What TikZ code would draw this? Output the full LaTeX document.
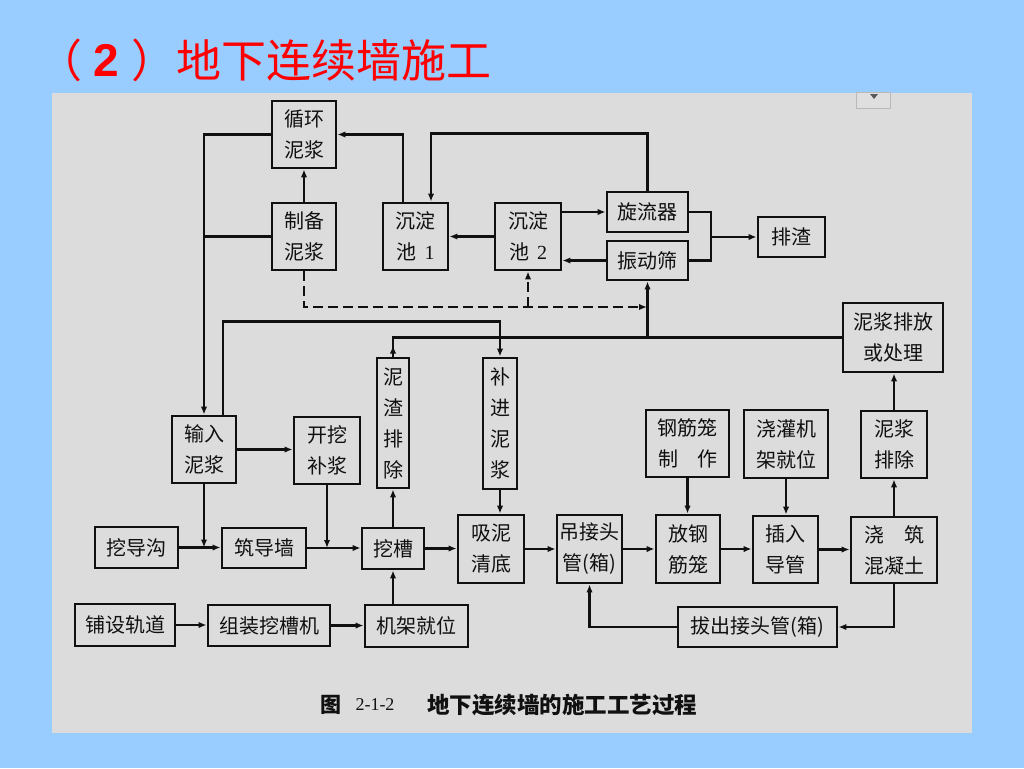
\documentclass[tikz,border=0pt]{standalone}
\usepackage{fontspec}
\newfontfamily\cjk{Noto Sans CJK SC}
\newfontfamily\lsans{Liberation Sans}
\newfontfamily\lserif{Liberation Serif}
\usetikzlibrary{arrows.meta}
\definecolor{bgblue}{HTML}{99CCFF}
\definecolor{scangray}{HTML}{DCDCDC}
\definecolor{titlered}{HTML}{FF0000}
\definecolor{ink}{HTML}{101010}
\tikzset{
  box/.style={draw=ink, line width=2.9pt, inner sep=0pt, align=center, text=ink,
    font=\fontsize{20}{31}\selectfont\cjk},
  conn/.style={draw=ink, line width=2.4pt},
  arr/.style={conn, -{Latex[length=8pt,width=6.5pt]}},
  dashline/.style={conn, dash pattern=on 10pt off 5pt},
  ttl/.style={text=titlered, inner sep=0pt, font=\fontsize{45}{45}\selectfont\cjk},
}
\begin{document}
\begin{tikzpicture}[x=1pt,y=-1pt]
\useasboundingbox (0,0) rectangle (1024,768);
\fill[bgblue] (0,0) rectangle (1024,768);
\fill[scangray] (52,93) rectangle (972,733);
% small widget
\fill[gray!25] (856,92) rectangle (890,108);
\draw[gray!55, line width=0.8pt] (856,92) rectangle (890,108);
\fill[gray!70!black] (870,94) -- (878,94) -- (874,99) -- cycle;

% title
\node[ttl] (lp) at (60,60) {（};
\node[text=titlered, inner sep=0pt, font=\fontsize{46}{46}\selectfont\lsans\bfseries] (two) at (106,60) {2};
\node[ttl] (rp) at (154,60) {）};
\node[ttl, anchor=west] (title) at (176,60) {地下连续墙施工};

% boxes
\node[box, minimum width=64pt, minimum height=67pt] (xh) at (304,134.5) {循环\\泥浆};
\node[box, minimum width=64pt, minimum height=67pt] (zb) at (304,236.5) {制备\\泥浆};
\node[box, minimum width=65pt, minimum height=67pt] (cd1) at (415.5,236.5) {沉淀\\池\hspace{8pt}{\lserif 1}};
\node[box, minimum width=66pt, minimum height=67pt] (cd2) at (528,236.5) {沉淀\\池\hspace{8pt}{\lserif 2}};
\node[box, minimum width=81pt, minimum height=40pt] (xl) at (647.5,212) {旋流器};
\node[box, minimum width=81pt, minimum height=39pt] (zd) at (647.5,260.5) {振动筛};
\node[box, minimum width=67pt, minimum height=40pt] (pz) at (791.5,237) {排渣};
\node[box, minimum width=100pt, minimum height=69pt] (pf) at (893,337.5) {泥浆排放\\或处理};
\node[box, minimum width=64pt, minimum height=67pt] (sr) at (204,449.5) {输入\\泥浆};
\node[box, minimum width=66pt, minimum height=67pt] (kw) at (327,450.5) {开挖\\补浆};
\node[box, minimum width=32pt, minimum height=130pt] (nz) at (393,423) {泥\\渣\\排\\除};
\node[box, minimum width=34pt, minimum height=131pt] (bj) at (500,423.5) {补\\进\\泥\\浆};
\node[box, minimum width=83pt, minimum height=67pt] (gj) at (687.5,443.5) {钢筋笼\\制\hspace{19pt}作};
\node[box, minimum width=84pt, minimum height=68pt] (jg) at (786,444) {浇灌机\\架就位};
\node[box, minimum width=66pt, minimum height=67pt] (npc) at (894,444.5) {泥浆\\排除};
\node[box, minimum width=83pt, minimum height=41pt] (wdg) at (136.5,547.5) {挖导沟};
\node[box, minimum width=84pt, minimum height=40pt] (zdq) at (264,548) {筑导墙};
\node[box, minimum width=62pt, minimum height=41pt] (wc) at (393,548.5) {挖槽};
\node[box, minimum width=66pt, minimum height=68pt] (xn) at (491,549) {吸泥\\清底};
\node[box, minimum width=65pt, minimum height=68pt] (dj) at (589.5,549) {吊接头\\管(箱)};
\node[box, minimum width=64pt, minimum height=68pt] (fg) at (688,549) {放钢\\筋笼};
\node[box, minimum width=65pt, minimum height=67pt] (cr) at (785.5,549.5) {插入\\导管};
\node[box, minimum width=86pt, minimum height=66pt] (jz) at (894,550) {浇\hspace{20pt}筑\\混凝土};
\node[box, minimum width=159pt, minimum height=40pt] (bc) at (757.5,627) {拔出接头管(箱)};
\node[box, minimum width=100pt, minimum height=42pt] (ps) at (125,625) {铺设轨道};
\node[box, minimum width=122pt, minimum height=41pt] (zz) at (269,625.5) {组装挖槽机};
\node[box, minimum width=103pt, minimum height=42pt] (jj) at (416.5,626) {机架就位};

% junction coordinates
\coordinate (j1) at (711,237);
\coordinate (dj2) at (647,307);

% top cluster
\draw[arr] (zb.north) -- (xh.south);
\draw[arr] (xh.west) -| (sr.north);
\draw[conn] (zb.west) -- (zb.west -| sr.north);
\draw[arr] ([xshift=-12.5pt]cd1.north) |- (xh.east);
\draw[arr] (xl.north) -- ++(0,-57) -| ([xshift=15.5pt]cd1.north);
\draw[arr] (cd2.west) -- (cd2.west -| cd1.east);
\draw[arr] (cd2.east |- xl.west) -- (xl.west);
\draw[arr] (zd.west) -- (zd.west -| cd2.east);
\draw[conn] (xl.east) -| (j1) |- (zd.east);
\draw[arr] (j1) -- (j1 -| pz.west);
\draw[dashline, -{Latex[length=8pt,width=6.5pt]}] (zb.south) |- (dj2);
\draw[dashline, -{Latex[length=8pt,width=6.5pt]}] (cd2.south |- dj2) -- (cd2.south);

% middle lines
\draw[conn] (nz.north) |- (pf.west);
\draw[arr] (nz.north) -- ++(0,-11);
\draw[arr] (zd.south |- pf.west) -- (zd.south);
\draw[arr] ([xshift=19pt]sr.north) |- ([yshift=35pt]bj.north) -- (bj.north);
\draw[arr] (sr.east) -- (sr.east -| kw.west);
\draw[arr] (sr.south) -- (sr.south |- wdg.east);
\draw[arr] (kw.south) -- (kw.south |- zdq.east);

% main row
\draw[arr] (wdg.east) -- (wdg.east -| zdq.west);
\draw[arr] (zdq.east) -- (zdq.east -| wc.west);
\draw[arr] (wc.east) -- (wc.east -| xn.west);
\draw[arr] (xn.east) -- (dj.west);
\draw[arr] (dj.east) -- (fg.west);
\draw[arr] (fg.east) -- (fg.east -| cr.west);
\draw[arr] (cr.east) -- (cr.east -| jz.west);
\draw[arr] (wc.north) -- (nz.south);
\draw[arr] (bj.south) -- (bj.south |- xn.north);
\draw[arr] (jj.north -| wc.south) -- (wc.south);
\draw[arr] (ps.east) -- (ps.east -| zz.west);
\draw[arr] (zz.east) -- (zz.east -| jj.west);
\draw[arr] (gj.south) -- (gj.south |- fg.north);
\draw[arr] (jg.south) -- (jg.south |- cr.north);
\draw[arr] (jz.north) -- (npc.south);
\draw[arr] (npc.north) -- (npc.north |- pf.south);
\draw[arr] (jz.south) |- (bc.east);
\draw[arr] (bc.west) -| (dj.south);

% caption
\node[inner sep=0pt, text=ink, font=\fontsize{21}{21}\selectfont\cjk\bfseries] (fig) at (331,705) {图};
\node[inner sep=0pt, text=ink, font=\fontsize{18}{18}\selectfont\lserif] (num) at (375,705) {2-1-2};
\node[inner sep=0pt, anchor=west, text=ink, font=\fontsize{22.5}{22.5}\selectfont\cjk\bfseries] (cap) at (427,705) {地下连续墙的施工工艺过程};
\end{tikzpicture}
\end{document}
